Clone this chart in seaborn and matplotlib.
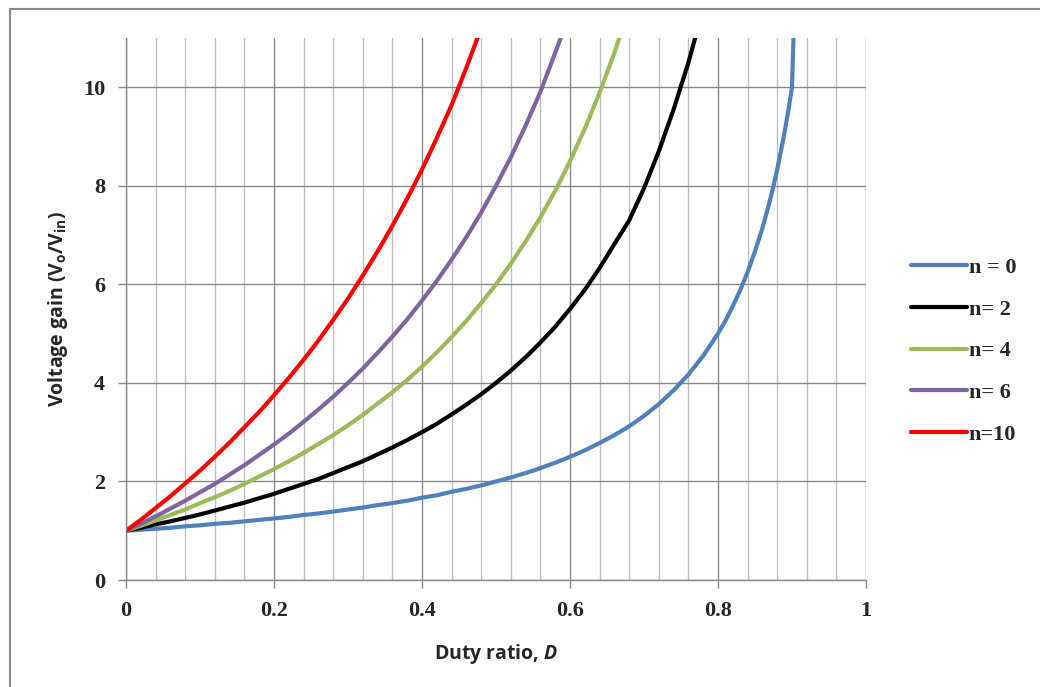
import matplotlib
matplotlib.use("Agg")
import matplotlib.pyplot as plt
import pandas as pd
import seaborn as sns
from matplotlib.ticker import MultipleLocator
from matplotlib.patches import Rectangle

sns.set_style("white")
plt.rcParams['font.family'] = ['Liberation Serif', 'DejaVu Serif']
plt.rcParams['mathtext.fontset'] = 'custom'
plt.rcParams['mathtext.bf'] = 'Open Sans:bold'
plt.rcParams['mathtext.rm'] = 'Open Sans:bold'
plt.rcParams['mathtext.it'] = 'Open Sans:bold:italic'

# values
d_grid = [0, 0.02, 0.04, 0.06, 0.08, 0.1, 0.12, 0.14, 0.16, 0.18, 0.2, 0.22, 0.24, 0.26,
          0.28, 0.3, 0.32, 0.34, 0.36, 0.38, 0.4, 0.42, 0.44, 0.46, 0.48, 0.5, 0.52, 0.54,
          0.56, 0.58, 0.6, 0.62, 0.64, 0.66, 0.68, 0.7, 0.72, 0.74, 0.76, 0.78, 0.8]

d_n0 = d_grid + [0.81, 0.82, 0.83, 0.84, 0.85, 0.86, 0.87, 0.875, 0.88, 0.885, 0.89,
                 0.895, 0.9, 0.902, 0.903]
g_n0 = [1.00, 1.02, 1.04, 1.06, 1.09, 1.11, 1.14, 1.16, 1.19, 1.22, 1.25, 1.28, 1.32, 1.35,
        1.39, 1.43, 1.47, 1.52, 1.56, 1.61, 1.67, 1.72, 1.79, 1.85, 1.92, 2.00, 2.08, 2.17,
        2.27, 2.38, 2.50, 2.63, 2.78, 2.94, 3.12, 3.33, 3.57, 3.85, 4.17, 4.55, 5.00,
        5.26, 5.56, 5.88, 6.25, 6.67, 7.14, 7.69, 8.00, 8.33, 8.70, 9.09, 9.52, 10.0, 11.0, 12.0]

g_n2 = [1.00, 1.06, 1.13, 1.19, 1.26, 1.33, 1.41, 1.49, 1.57, 1.66, 1.75, 1.85, 1.95, 2.05,
        2.17, 2.29, 2.41, 2.55, 2.69, 2.84, 3.00, 3.17, 3.36, 3.56, 3.77, 4.00, 4.25, 4.52,
        4.82, 5.14, 5.50, 5.89, 6.33, 6.82, 7.30, 7.95, 8.70, 9.55, 10.5, 11.6]

g_n4 = [1.00, 1.10, 1.21, 1.32, 1.43, 1.56, 1.68, 1.81, 1.95, 2.10, 2.25, 2.41, 2.58, 2.76,
        2.94, 3.14, 3.35, 3.58, 3.81, 4.06, 4.33, 4.62, 4.93, 5.26, 5.62, 6.00, 6.42, 6.87,
        7.36, 7.90, 8.50, 9.16, 9.89, 10.7, 11.6]

g_n6 = [1.00, 1.14, 1.29, 1.45, 1.61, 1.78, 1.95, 2.14, 2.33, 2.54, 2.75, 2.97, 3.21, 3.46,
        3.72, 4.00, 4.29, 4.61, 4.94, 5.29, 5.67, 6.07, 6.50, 6.96, 7.46, 8.00, 8.58, 9.22,
        9.91, 10.7, 11.5]

g_n10 = [1.00, 1.22, 1.46, 1.70, 1.96, 2.22, 2.50, 2.79, 3.10, 3.41, 3.75, 4.10, 4.47, 4.86,
         5.28, 5.71, 6.18, 6.67, 7.19, 7.74, 8.33, 8.97, 9.64, 10.4, 11.2, 12.0]

labels = ['n = 0', 'n= 2', 'n= 4', 'n= 6', 'n=10']
colors = ['#4F81BD', '#000000', '#9BBB59', '#8064A2', '#FF0000']

series = [(d_n0, g_n0), (d_grid[:len(g_n2)], g_n2), (d_grid[:len(g_n4)], g_n4),
          (d_grid[:len(g_n6)], g_n6), (d_grid[:len(g_n10)], g_n10)]
frames = []
for lab, (d, g) in zip(labels, series):
    frames.append(pd.DataFrame({'D': d, 'gain': g, 'series': lab}))
df = pd.concat(frames, ignore_index=True)

fig = plt.figure(figsize=(10.4, 6.87), dpi=100)
ax = fig.add_axes([126 / 1040, 1 - 580 / 687, 740 / 1040, 542 / 687])

sns.lineplot(data=df, x='D', y='gain', hue='series', palette=colors, sort=False,
             linewidth=3.0, ax=ax, solid_capstyle='round', solid_joinstyle='round')

ax.set_xlim(0, 1)
ax.set_ylim(0, 11)
ax.set_xticks([0, 0.2, 0.4, 0.6, 0.8, 1.0])
ax.set_xticklabels(['0', '0.2', '0.4', '0.6', '0.8', '1'])
ax.xaxis.set_minor_locator(MultipleLocator(0.04))
ax.yaxis.set_major_locator(MultipleLocator(2))

ax.grid(which='minor', axis='x', color='#BFBFBF', linewidth=1.0)
ax.grid(which='major', axis='both', color='#898989', linewidth=1.0)
ax.set_axisbelow(True)

for s in ['top', 'right']:
    ax.spines[s].set_visible(False)
for s in ['left', 'bottom']:
    ax.spines[s].set_color('#898989')
    ax.spines[s].set_linewidth(1.0)

ax.tick_params(axis='both', which='major', direction='out', length=6, width=1.0,
               color='#898989', labelsize=16, left=True, bottom=True, pad=9)
ax.tick_params(which='minor', length=0)
for t in ax.get_xticklabels() + ax.get_yticklabels():
    t.set_fontweight('bold')

ax.set_xlabel('Duty ratio, $\\mathit{D}$', fontsize=14, fontweight='bold',
              family='Open Sans', labelpad=15)
ax.set_ylabel('Voltage gain (V$_{\\mathbf{o}}$/V$_{\\mathbf{in}}$)', fontsize=14,
              fontweight='bold', family='Open Sans', labelpad=9)

handles, labs = ax.get_legend_handles_labels()
for h in handles:
    h.set_solid_capstyle('round')
ax.legend(handles, labs, loc='center left', bbox_to_anchor=(911 / 1040, 1 - 351 / 687),
          bbox_transform=fig.transFigure, frameon=False, borderpad=0, borderaxespad=0,
          handlelength=2.5, handletextpad=0.1, labelspacing=0.95,
          prop={'family': 'Liberation Serif', 'weight': 'bold', 'size': 16})

fig.patches.append(Rectangle((10 / 1040, -0.05), 1.1, 1 - 9 / 687 + 0.05,
                             transform=fig.transFigure, fill=False,
                             edgecolor='#898989', linewidth=1.5))

fig.savefig('out.png', dpi=100)
